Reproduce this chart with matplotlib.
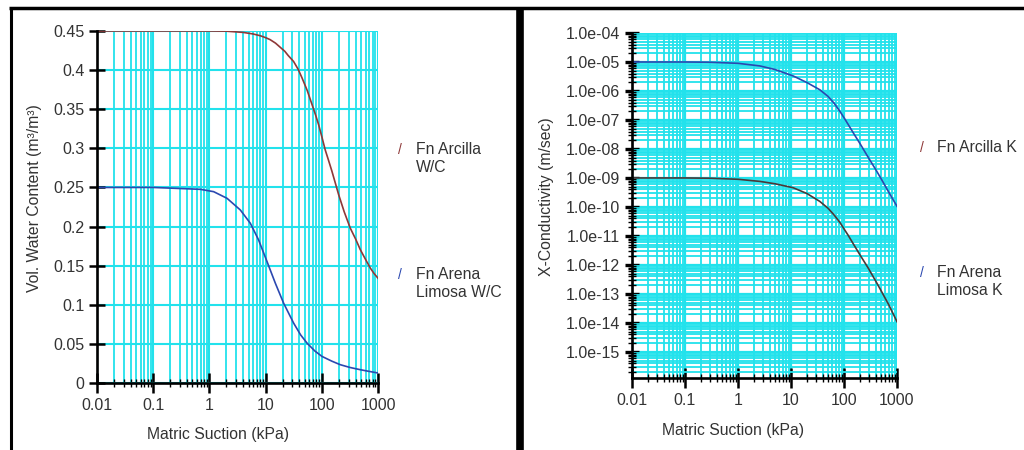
import numpy as np
import matplotlib
matplotlib.use('Agg')
import matplotlib.pyplot as plt
from matplotlib.ticker import FixedLocator, FuncFormatter, LogLocator, NullFormatter
from matplotlib.lines import Line2D

plt.rcParams['font.family'] = ['Liberation Sans', 'DejaVu Sans']

# --- data ---
suction_arcilla_wc = [0.01, 0.1, 1, 2, 4, 6, 8, 10, 12, 15, 18, 22, 25, 31.5, 38, 44.5, 55, 67, 78,
                      88, 100, 115, 130, 151, 175, 199, 250, 321, 400, 484, 600, 729, 850, 1000]
wc_arcilla = [0.45, 0.45, 0.45, 0.4498, 0.4482, 0.4462, 0.4440, 0.4415, 0.4390, 0.4345, 0.4295,
              0.4240, 0.4190, 0.411, 0.401, 0.390, 0.374, 0.356, 0.342, 0.330, 0.315, 0.298,
              0.286, 0.271, 0.255, 0.241, 0.219, 0.198, 0.184, 0.1705, 0.158, 0.147, 0.140, 0.134]

suction_arena_wc = [0.01, 0.1, 0.69, 1.19, 2.06, 3.55, 5.35, 7.5, 10.6, 14.9, 20.9, 31.5, 42, 54.6,
                    75, 100.7, 150, 213, 320, 484, 700, 1000]
wc_arena = [0.25, 0.25, 0.2476, 0.2446, 0.2361, 0.2212, 0.2042, 0.1829, 0.1552, 0.1276, 0.1021,
            0.0766, 0.0615, 0.0510, 0.0410, 0.0340, 0.0280, 0.0234, 0.0198, 0.0170, 0.0148, 0.0128]

suction_k = [0.01, 0.1, 0.3, 1, 2.6, 5, 11, 20, 35, 50, 65, 85, 100, 120, 151, 204, 289, 400,
             500, 700, 1000]
k_arena = [1e-5, 1e-5, 9.8e-6, 9.0e-6, 7.3e-6, 5.5e-6, 3.3e-6, 1.95e-6, 1.1e-6, 6.5e-7, 3.8e-7,
           1.9e-7, 1.2e-7, 7e-8, 3.5e-8, 1.45e-8, 5e-9, 1.9e-9, 9.5e-10, 3.2e-10, 1.05e-10]
k_arcilla = [1e-9, 1e-9, 9.8e-10, 9.0e-10, 7.6e-10, 6.3e-10, 4.6e-10, 2.9e-10, 1.55e-10, 9e-11,
             5.3e-11, 2.8e-11, 1.75e-11, 1.05e-11, 5.2e-12, 2.1e-12, 7.6e-13, 2.7e-13, 1.3e-13,
             4.2e-14, 1.1e-14]

x_decades = [0.01, 0.1, 1, 10, 100, 1000]
wc_ticks = [0, 0.05, 0.1, 0.15, 0.2, 0.25, 0.3, 0.35, 0.4, 0.45]
k_ticks = [1e-4, 1e-5, 1e-6, 1e-7, 1e-8, 1e-9, 1e-10, 1e-11, 1e-12, 1e-13, 1e-14, 1e-15]

left_labels = ['Fn Arcilla\nW/C', 'Fn Arena\nLimosa W/C']
right_labels = ['Fn Arcilla K', 'Fn Arena\nLimosa K']

CYAN = '#22e2ec'
RED = '#8e3838'
BLUE = '#2b48b0'
DARK = '#4a3838'
TXT = '#333333'
W, H = 1024, 450

fig = plt.figure(figsize=(W / 100, H / 100), dpi=100)
fig.patch.set_facecolor('white')


def px_axes(l, t, r, b):
    return fig.add_axes([l / W, 1 - b / H, (r - l) / W, (b - t) / H])


def style_axes(ax):
    for s in ['top', 'right']:
        ax.spines[s].set_visible(False)
    for s in ['left', 'bottom']:
        ax.spines[s].set_linewidth(1.9)
        ax.spines[s].set_color('black')
        ax.spines[s].set_zorder(4)
    ax.set_axisbelow(True)
    ax.tick_params(which='major', direction='inout', length=11, width=1.8, colors='black',
                   labelcolor=TXT, labelsize=11.5)
    ax.tick_params(which='minor', direction='inout', length=6, width=1.0, colors='black')
    ax.tick_params(axis='x', which='major', pad=4)


# ---------------- left: water content ----------------
ax1 = px_axes(97, 31, 378, 383)
ax1.set_xscale('log')
ax1.set_xlim(0.01, 1000)
ax1.set_ylim(0, 0.45)
ax1.plot(suction_arcilla_wc, wc_arcilla, color=RED, lw=1.2, zorder=3)
ax1.plot(suction_arena_wc, wc_arena, color=BLUE, lw=1.2, zorder=3)
ax1.xaxis.set_major_locator(FixedLocator(x_decades))
ax1.xaxis.set_major_formatter(FuncFormatter(lambda v, p: '%g' % v))
ax1.xaxis.set_minor_locator(LogLocator(base=10, subs=np.arange(2, 10)))
ax1.xaxis.set_minor_formatter(NullFormatter())
ax1.yaxis.set_major_locator(FixedLocator(wc_ticks))
ax1.yaxis.set_major_formatter(FuncFormatter(lambda v, p: '%g' % v))
ax1.grid(True, which='major', axis='both', color=CYAN, lw=1.5)
ax1.grid(True, which='minor', axis='x', color=CYAN, lw=1.3)
style_axes(ax1)
ax1.tick_params(axis='y', which='minor', length=0)
ax1.tick_params(axis='x', which='major', length=14)

fig.text(35 / W, 1 - 198 / H, 'Vol. Water Content (m³/m³)', rotation=90, ha='center', va='center',
         fontsize=11.3, color=TXT)
fig.text(218 / W, 1 - 435 / H, 'Matric Suction (kPa)', ha='center', va='center', fontsize=11.3, color=TXT)

for lab, col, yc in zip(left_labels, [RED, BLUE], [150, 275]):
    fig.text(400 / W, 1 - yc / H, '/', color=col, fontsize=10, ha='center', va='center')
    fig.text(416 / W, 1 - (yc - 8) / H, lab, color=TXT, fontsize=11.3, ha='left', va='top', linespacing=1.28)

# ---------------- right: conductivity ----------------
ax2 = px_axes(632, 33, 897, 378)
ax2.set_xscale('log')
ax2.set_yscale('log')
ax2.set_xlim(0.01, 1000)
ax2.set_ylim(10 ** -15.9, 1e-4)
ax2.plot(suction_k, k_arena, color=BLUE, lw=1.2, zorder=3)
ax2.plot(suction_k, k_arcilla, color=DARK, lw=1.2, zorder=3)
ax2.xaxis.set_major_locator(FixedLocator(x_decades))
ax2.xaxis.set_major_formatter(FuncFormatter(lambda v, p: '%g' % v))
ax2.xaxis.set_minor_locator(LogLocator(base=10, subs=np.arange(2, 10)))
ax2.xaxis.set_minor_formatter(NullFormatter())
ax2.yaxis.set_major_locator(FixedLocator(k_ticks))
ax2.yaxis.set_major_formatter(FuncFormatter(lambda v, p: '%.1e' % v))
ax2.yaxis.set_minor_locator(LogLocator(base=10, subs=np.arange(2, 10), numticks=30))
ax2.yaxis.set_minor_formatter(NullFormatter())
ax2.grid(True, which='major', axis='both', color=CYAN, lw=1.6)
ax2.grid(True, which='minor', axis='both', color=CYAN, lw=1.3)
style_axes(ax2)
ax2.tick_params(axis='y', which='major', length=10, width=2.4)
ax2.tick_params(axis='x', which='major', length=14)

fig.text(547 / W, 1 - 197 / H, 'X-Conductivity (m/sec)', rotation=90, ha='center', va='center',
         fontsize=11.3, color=TXT)
fig.text(733 / W, 1 - 430 / H, 'Matric Suction (kPa)', ha='center', va='center', fontsize=11.3, color=TXT)

for lab, col, yc in zip(right_labels, [RED, BLUE], [148, 273]):
    fig.text(922 / W, 1 - yc / H, '/', color=col, fontsize=10, ha='center', va='center')
    fig.text(937 / W, 1 - (yc - 8) / H, lab, color=TXT, fontsize=11.3, ha='left', va='top', linespacing=1.28)

# ---------------- black frame ----------------
frame = dict(color='black', transform=fig.transFigure, solid_capstyle='butt')
fig.add_artist(Line2D([9 / W, 1], [1 - 8 / H, 1 - 8 / H], lw=2.5, **frame))
fig.add_artist(Line2D([11 / W, 11 / W], [0, 1 - 8 / H], lw=2.2, **frame))
fig.add_artist(Line2D([520 / W, 520 / W], [0, 1 - 8 / H], lw=5.5, **frame))

fig.savefig('out.png', dpi=100)
